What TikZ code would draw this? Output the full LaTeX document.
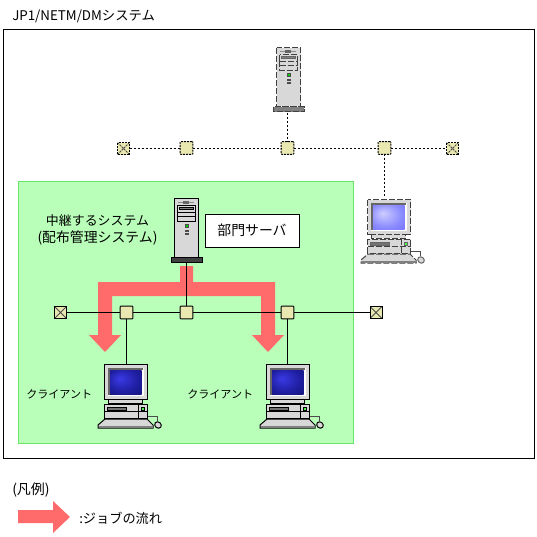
\documentclass[tikz,border=0pt]{standalone}
\usepackage{fontspec}
\setmainfont{Noto Sans CJK JP}
\usetikzlibrary{shadings}
\tikzset{
  px/.style={line width=0.75pt},
  hub/.style={draw=black,px,fill=hubc,rounded corners=0.6pt,minimum size=9.6pt,inner sep=0pt,outer sep=0pt},
  term/.style={hub,rounded corners=0pt,minimum size=9pt,path picture={\draw[px,draw=black!70] (path picture bounding box.north west)--(path picture bounding box.south east) (path picture bounding box.north east)--(path picture bounding box.south west);}},
  link/.style={px,draw=black},
  dlink/.style={link,dash pattern=on 1.5pt off 1.5pt},
  dhub/.style={dash pattern=on 1.5pt off 0.75pt},
  lbl/.style={inner sep=0pt,anchor=west},
  fs/.style={font=\fontsize{#1pt}{11pt}\selectfont},
  ol/.style={draw=black,px},
  thinol/.style={draw=black,px},
}
\definecolor{hubc}{HTML}{E8E8B0}
\definecolor{flowc}{HTML}{FF6B6B}
\definecolor{greenf}{HTML}{B9FFB9}
\definecolor{greend}{HTML}{66E866}
\definecolor{bodyc}{HTML}{D8D8D8}
\definecolor{scrdA}{HTML}{3A3AE6}
\definecolor{scrdB}{HTML}{1E1EA0}
\definecolor{scrdC}{HTML}{0F0F64}
\definecolor{scrlA}{HTML}{CDCDFF}
\definecolor{scrlB}{HTML}{8C8CFF}
\definecolor{scrlC}{HTML}{6464FF}
\pgfdeclareradialshading{scrdark}{\pgfpoint{-10bp}{8bp}}{color(0bp)=(scrdA); color(25bp)=(scrdB); color(50bp)=(scrdC)}
\pgfdeclareradialshading{scrlight}{\pgfpoint{-10bp}{8bp}}{color(0bp)=(scrlA); color(25bp)=(scrlB); color(50bp)=(scrlC)}
\newcommand{\serverpic}[1]{%
  \begin{scope}[shift={#1}]
    \draw[ol,fill=bodyc] (174.5,198.5) rectangle (198.5,257);
    \fill[black!45] (178,202) rectangle (194,203);
    \fill[black!60] (183,200.5) rectangle (189,204);
    \draw[ol,fill=bodyc] (177.5,205.5) rectangle (195.5,212);
    \draw[thinol,fill=black!50] (179.5,207) rectangle (193.5,209.5);
    \draw[ol,fill=bodyc] (177.5,212) rectangle (195.5,221);
    \draw[ol] (177.5,216) -- (195.5,216);
    \fill[black!70] (185,224) rectangle (188.5,228);
    \fill[green!80!black] (186,225) rectangle (187.5,227);
    \fill[black!70] (185,230) rectangle (188.5,232);
    \fill[black!70] (185,233) rectangle (188.5,235);
    \draw[ol,fill=basec] (171.5,257.5) rectangle (202,262.5);
  \end{scope}}
\newcommand{\pcpic}[2]{%
  \begin{scope}[shift={#1}]
    \draw[ol,fill=bodyc] (104.5,364.5) rectangle (147.5,399);
    \fill[white] (108,368) rectangle (144,396);
    \fill[black!60] (108,368) rectangle (143,370);
    \fill[black!60] (108,368) rectangle (110,395);
    \shade[shading=#2] (110,370) rectangle (141.5,394);
    \draw[ol,fill=bodyc] (108.5,399) rectangle (142.5,403);
    \draw[ol,fill=bodyc] (104.5,404) rectangle (147.5,418);
    \draw[ol] (104.5,411) -- (147.5,411) (138.5,404) -- (138.5,418);
    \draw[thinol,fill=black!55] (107,407.5) rectangle (126,410.5);
    \draw[thinol,fill=green!70] (141,407.5) rectangle (144,410.5);
    \draw[px,draw=black!70] (148,416.5) -- (157,416.5) -- (157,421);
    \draw[thinol,fill=bodyc,rotate around={-40:(158,425)}] (158,425) ellipse (3.5 and 3);
    \draw[ol,fill=bodyc] (105,419) -- (147,419) -- (153,425) -- (153,428) -- (98,428) -- (98,425) -- cycle;
    \fill[black!50] (98.5,425.5) rectangle (152.5,428);
  \end{scope}}
\begin{document}
\begin{tikzpicture}[x=0.75pt,y=-0.75pt]
\useasboundingbox (0,0) rectangle (537,537);
\fill[white] (0,0) rectangle (537,537);
\node[lbl,fs=10] (title) at (12,16) {JP1/NETM/DMシステム};
\draw[px,fill=white] (3.5,29.5) rectangle (534.5,458.5);
\draw[px,draw=greend,fill=greenf] (18.5,181.5) rectangle (353.5,443.5);

% job flow
\fill[flowc] (180,266) -- (193,266) -- (193,282) -- (275,282) -- (275,335) -- (284,335) -- (268,352) -- (252,335) -- (261,335) -- (261,296) -- (112,296) -- (112,335) -- (121,335) -- (105,352) -- (89,335) -- (98,335) -- (98,282) -- (180,282) -- cycle;
\fill[flowc] (18,510) -- (53,510) -- (53,501) -- (70,517) -- (53,533) -- (53,523) -- (18,523) -- cycle;

% upper system (dashed outlines)
\colorlet{basec}{black!50}
\begin{scope}[ol/.style={draw=black!75,px,dash pattern=on 4.5pt off 1.5pt},thinol/.style={draw=black!60,px}]
  \serverpic{(102,-151)}
  \pcpic{(263,-165)}{scrlight}
\end{scope}
\coordinate (topsrv) at (287.5,112.5);
\coordinate (toppc) at (384.5,197);
\node[hub,dhub] (u1) at (186.5,148) {};
\node[hub,dhub] (u2) at (287.5,148) {};
\node[hub,dhub] (u3) at (384.5,148) {};
\node[term,dhub] (ut1) at (123.5,148.5) {};
\node[term,dhub] (ut2) at (452.5,148.5) {};
\draw[dlink] (ut1.east) -- (u1.west |- ut1.east);
\draw[dlink] (u1.east |- ut1.east) -- (u2.west |- ut1.east);
\draw[dlink] (u2.east |- ut1.east) -- (u3.west |- ut1.east);
\draw[dlink] (u3.east |- ut1.east) -- (ut2.west);
\draw[dlink] (topsrv) -- (u2);
\draw[dlink] (u3) -- (toppc);

% lower system
\colorlet{basec}{black!75}
\serverpic{(0,0)}
\pcpic{(0,0)}{scrdark}
\pcpic{(162,0)}{scrdark}
\coordinate (srv) at (186.5,263);
\coordinate (pc1) at (126.5,364);
\coordinate (pc2) at (287.5,364);
\node[hub] (l1) at (126.5,312.5) {};
\node[hub] (l2) at (186.5,312.5) {};
\node[hub] (l3) at (287.5,312.5) {};
\node[term] (lt1) at (60.5,312.5) {};
\node[term] (lt2) at (376,312.5) {};
\draw[link] (lt1) -- (l1);
\draw[link] (l1) -- (l2);
\draw[link] (l2) -- (l3);
\draw[link] (l3) -- (lt2);
\draw[link] (srv) -- (l2);
\draw[link] (l1) -- (pc1);
\draw[link] (l3) -- (pc2);

\node[draw=black,px,fill=white,minimum width=70.5pt,minimum height=24.75pt,inner sep=0pt,fs=10.4] (box) at (252,230.5) {部門サーバ};
\node[lbl,anchor=center,fs=9.7] (relay1) at (97.5,221) {中継するシステム};
\node[lbl,anchor=center,fs=10.4] (relay2) at (97.5,238) {(配布管理システム)};
\node[lbl,fs=8.3] (c1) at (26,394) {クライアント};
\node[lbl,fs=8.3] (c2) at (187,394) {クライアント};
\node[lbl,fs=10.5] (legend) at (12,490) {(凡例)};
\node[lbl,fs=9.9] (job) at (79,518) {:ジョブの流れ};
\end{tikzpicture}
\end{document}
